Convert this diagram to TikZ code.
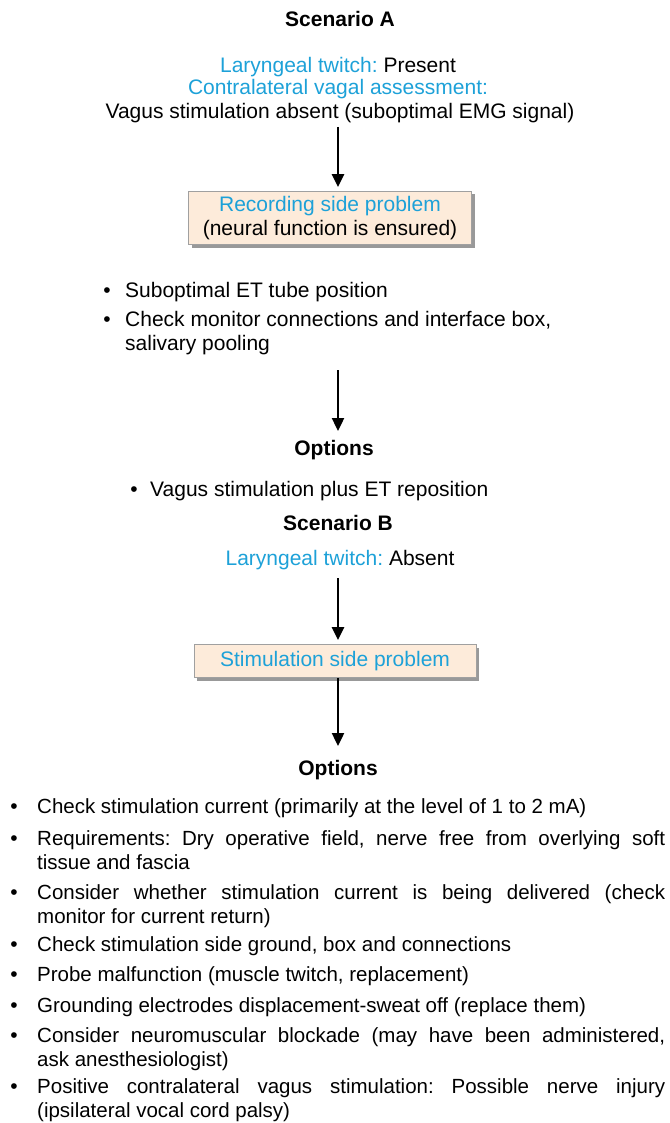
\documentclass[tikz,border=0pt]{standalone}
\usepackage{fontspec}
\setmainfont{Liberation Sans}
\usetikzlibrary{arrows.meta,shadows}
\definecolor{cyanT}{HTML}{1DA1D8}
\definecolor{boxfill}{HTML}{FDEBDA}
\definecolor{boxline}{HTML}{A0A0A0}
\frenchspacing
\begin{document}
\begin{tikzpicture}[x=1pt,y=-1pt,
  txt/.style={font=\fontsize{21}{24}\selectfont, inner sep=0pt, anchor=base},
  ttl/.style={font=\fontsize{21}{24}\selectfont\bfseries, inner sep=0pt, anchor=base},
  probbox/.style={draw=boxline, fill=boxfill, line width=0.8pt,
    drop shadow={shadow xshift=3pt,shadow yshift=-3pt,fill=black!50,opacity=0.8},
    align=center, font=\fontsize{21}{24}\selectfont, minimum width=283pt, inner sep=3pt},
  arr/.style={line width=2.4pt, -{Triangle[length=13pt,width=12pt]}},
  bul/.style={font=\fontsize{21}{24}\selectfont, inner sep=0pt, anchor=base},
  item/.style={font=\fontsize{20.5}{24.5}\selectfont\frenchspacing, inner sep=0pt, anchor=base west,
    text width=628pt, align=justify}
]
\useasboundingbox (0,0) rectangle (669,1123);
% Scenario A
\node[ttl] (scA) at (340,27) {Scenario A};
\node[txt] (lt1) at (338,73) {\textcolor{cyanT}{Laryngeal twitch:} Present};
\node[txt,text=cyanT] (cva) at (338,95) {Contralateral vagal assessment:};
\node[txt] (vsa) at (340,119) {Vagus stimulation absent (suboptimal EMG signal)};
\node[probbox, minimum height=53pt] (box1) at (330,218)
  {\textcolor{cyanT}{Recording side problem}\\(neural function is ensured)};
\coordinate (a1s) at (338,127);
\draw[arr] (a1s) -- ([yshift=4pt]box1.north -| a1s);
% bullets A
\node[bul] (b1) at (107,297) {\textbullet};
\node[txt, anchor=base west] (t1) at (125,297) {Suboptimal ET tube position};
\node[bul] (b2) at (107,326) {\textbullet};
\node[txt, anchor=base west] (t2) at (125,326) {Check monitor connections and interface box,};
\node[txt, anchor=base west] (t3) at (125,350) {salivary pooling};
\coordinate (a2s) at (338,370);
\coordinate (a2e) at (338,431);
\draw[arr] (a2s) -- (a2e);
\node[ttl] (opA) at (334,455) {Options};
\node[bul] (b3) at (134,496) {\textbullet};
\node[txt, anchor=base west] (t4) at (150,496) {Vagus stimulation plus ET reposition};
% Scenario B
\node[ttl] (scB) at (338,530) {Scenario B};
\node[txt] (lt2) at (340,565) {\textcolor{cyanT}{Laryngeal twitch:} Absent};
\node[probbox, minimum height=33pt, minimum width=282pt, text=cyanT] (box2) at (335,661) {Stimulation side problem};
\coordinate (a3s) at (338,578);
\draw[arr] (a3s) -- ([yshift=4pt]box2.north -| a3s);
\node[ttl] (opB) at (338,775) {Options};
\coordinate (a4e) at (338,746);
\draw[arr] (box2.south -| a4e) -- (a4e);
% bottom list
\node[bul] (c1) at (14,813) {\textbullet};
\node[item] (d1) at (37,813) {Check stimulation current (primarily at the level of 1 to 2 mA)};
\node[bul] (c2) at (14,845) {\textbullet};
\node[item] (d2) at (37,845) {Requirements: Dry operative field, nerve free from overlying soft\linebreak tissue and fascia};
\node[bul] (c3) at (14,899) {\textbullet};
\node[item] (d3) at (37,899) {Consider whether stimulation current is being delivered (check\linebreak monitor for current return)};
\node[bul] (c4) at (14,951) {\textbullet};
\node[item] (d4) at (37,951) {Check stimulation side ground, box and connections};
\node[bul] (c5) at (14,981) {\textbullet};
\node[item] (d5) at (37,981) {Probe malfunction (muscle twitch, replacement)};
\node[bul] (c6) at (14,1012) {\textbullet};
\node[item] (d6) at (37,1012) {Grounding electrodes displacement-sweat off (replace them)};
\node[bul] (c7) at (14,1042) {\textbullet};
\node[item] (d7) at (37,1042) {Consider neuromuscular blockade (may have been administered,\linebreak ask anesthesiologist)};
\node[bul] (c8) at (14,1093) {\textbullet};
\node[item] (d8) at (37,1093) {Positive contralateral vagus stimulation: Possible nerve injury\linebreak (ipsilateral vocal cord palsy)};
\end{tikzpicture}
\end{document}
